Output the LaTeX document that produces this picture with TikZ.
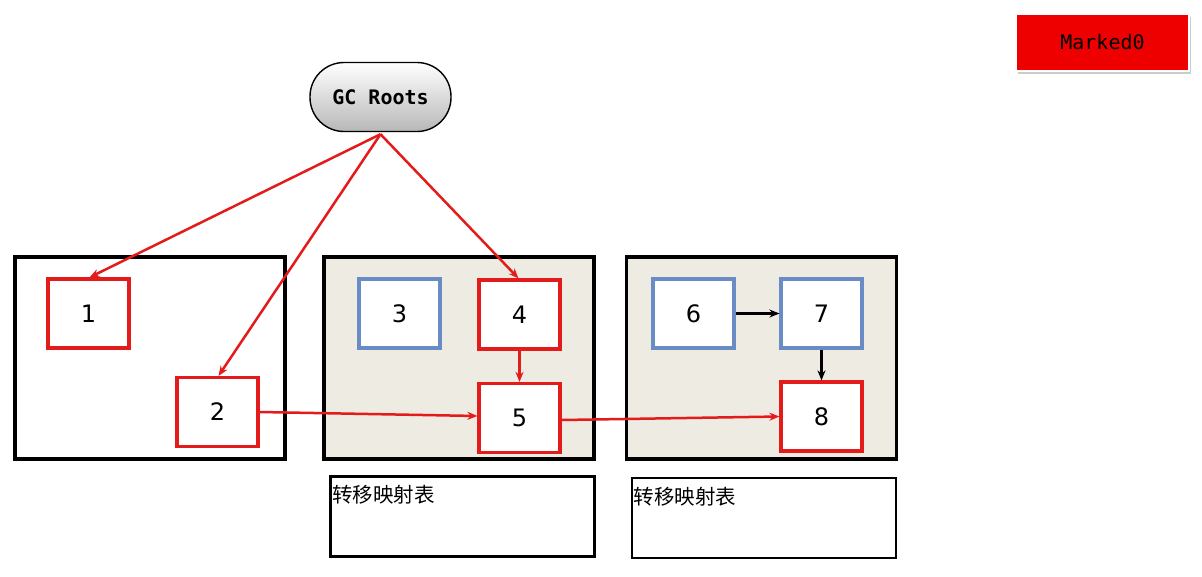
\documentclass[tikz,border=0pt]{standalone}
\usepackage{fontspec}
\setmainfont{DejaVu Sans}
\newfontfamily\monofnt{DejaVu Sans Mono}
\newfontfamily\cjk{Noto Sans CJK SC}
\usetikzlibrary{shadows,arrows.meta}
\definecolor{regbg}{HTML}{EEEBE3}
\definecolor{objblue}{HTML}{6A8CC4}
\definecolor{objred}{HTML}{E31B1B}
\definecolor{markred}{HTML}{EE0000}
\begin{document}
\begin{tikzpicture}[x=1pt,y=-1pt,
  region/.style={draw=black,line width=3.2pt,minimum width=270pt,minimum height=202pt,inner sep=0pt},
  obj/.style={draw=#1,line width=3.2pt,fill=white,minimum width=81pt,minimum height=69pt,inner sep=0pt,font=\fontsize{24}{28}\selectfont},
  table/.style={draw=black,line width=2.6pt,minimum width=264pt,minimum height=80pt,inner sep=0pt},
  redarr/.style={draw=objred,line width=2.5pt,-{Stealth[length=10pt,width=8pt]}},
  blkarr/.style={draw=black,line width=2.5pt,-{Stealth[length=10pt,width=8pt]}}]
\useasboundingbox (0,0) rectangle (1202,576);
% regions
\node[region,fill=white] (r1) at (150,358) {};
\node[region,fill=regbg] (r2) at (459,358) {};
\node[region,fill=regbg] (r3) at (761.5,358) {};
% tables
\node[table] (t1) at (462.5,516.5) {};
\node[table] (t2) at (764,518) {};
\node[anchor=north west,inner sep=0pt,font=\cjk\fontsize{20.5}{24}\selectfont] (t1l) at ([xshift=3pt,yshift=-10pt]t1.north west) {转移映射表};
\node[anchor=north west,inner sep=0pt,font=\cjk\fontsize{20.5}{24}\selectfont] (t2l) at ([xshift=3pt,yshift=-10pt]t2.north west) {转移映射表};
% objects
\node[obj=objred] (b1) at (88.5,313.5) {1};
\node[obj=objred] (b2) at (217.5,412) {2};
\node[obj=objblue] (b3) at (399.5,313.5) {3};
\node[obj=objred] (b4) at (519.5,314.5) {4};
\node[obj=objred] (b5) at (519.5,418) {5};
\node[obj=objblue] (b6) at (693.5,313.5) {6};
\node[obj=objblue] (b7) at (821.5,313.5) {7};
\node[obj=objred] (b8) at (821.5,416.5) {8};
% GC Roots
\node[draw=black,line width=1.4pt,rounded corners=34pt,minimum width=141pt,minimum height=69pt,
  top color=white,bottom color=black!28,font=\monofnt\bfseries\fontsize{20}{22}\selectfont] (gc) at (380.5,97) {GC Roots};
% Marked0
\node[fill=markred,draw=white,line width=1.5pt,minimum width=173pt,minimum height=57pt,
  drop shadow={shadow xshift=1.5pt,shadow yshift=-3pt,fill=black!40},
  font=\monofnt\fontsize{20}{24}\selectfont] (mk) at (1102.5,42.5) {Marked0};
% arrows
\coordinate (gcb) at ([yshift=-2pt]gc.south);
\draw[redarr] (gcb) -- ([xshift=1pt]b1.north);
\draw[redarr] (gcb) -- ([xshift=1pt]b2.north);
\draw[redarr] (gcb) -- ([xshift=-1pt]b4.north);
\draw[redarr] (b4.south) -- (b5.north);
\draw[redarr] (b2.east) -- ([yshift=2pt]b5.west);
\draw[redarr] ([yshift=-2pt]b5.east) -- ([yshift=0pt]b8.west);
\draw[blkarr] (b6.east) -- (b7.west);
\draw[blkarr] (b7.south) -- (b8.north);
\end{tikzpicture}
\end{document}
